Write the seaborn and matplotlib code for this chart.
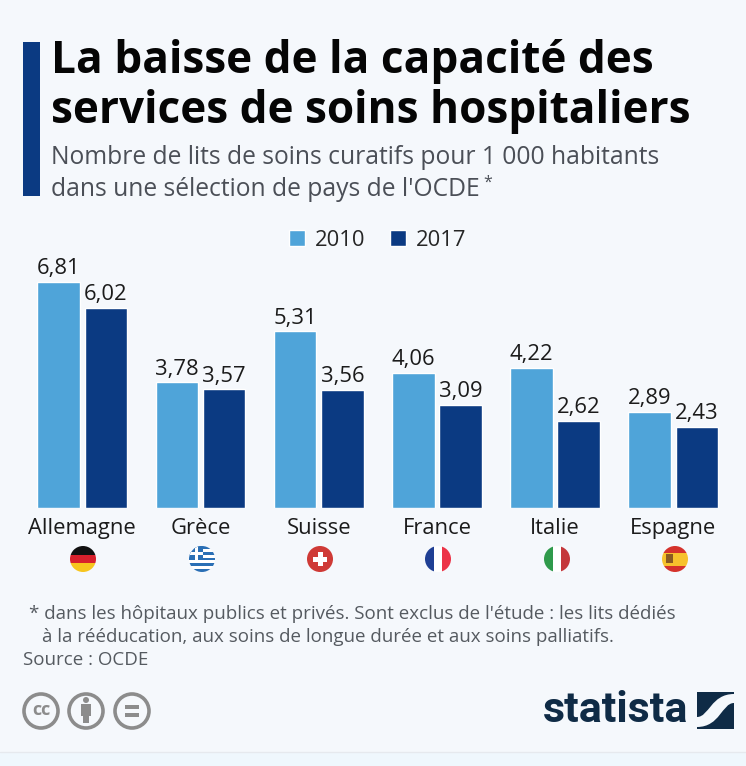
import matplotlib
matplotlib.use('Agg')
import matplotlib.pyplot as plt
from matplotlib.patches import Circle, Rectangle, PathPatch
from matplotlib.path import Path
import pandas as pd
import seaborn as sns

countries = ['Allemagne', 'Grèce', 'Suisse', 'France', 'Italie', 'Espagne']
values_2010 = [6.81, 3.78, 5.31, 4.06, 4.22, 2.89]
values_2017 = [6.02, 3.57, 3.56, 3.09, 2.62, 2.43]
years = ['2010', '2017']

BG = '#f5f8fc'
LIGHT = '#4fa4d9'
DARK = '#0b3a82'
W, H = 746, 766

sns.set_theme(style='white')
plt.rcParams['font.family'] = ['Open Sans', 'DejaVu Sans']

df = pd.DataFrame({'pays': countries, '2010': values_2010, '2017': values_2017})
df = df.melt(id_vars='pays', var_name='annee', value_name='lits')

fig = plt.figure(figsize=(W / 100, H / 100), dpi=100, facecolor=BG)

# overlay in pixel coordinates for title block, flags and logos
deco = fig.add_axes([0, 0, 1, 1], zorder=0)
deco.set_xlim(0, W)
deco.set_ylim(H, 0)
deco.axis('off')

# chart axes: baseline at y=508, 33.25 px per unit
left, right, top, bottom = 23.2, 732.4, 258, 508
ax = fig.add_axes([left / W, 1 - bottom / H, (right - left) / W, (bottom - top) / H], zorder=1)
ax.patch.set_alpha(0)
sns.barplot(data=df, x='pays', y='lits', hue='annee', hue_order=years,
            palette=[LIGHT, DARK], width=0.8, gap=0.1, saturation=1, ax=ax)
ax.set_ylim(0, (bottom - top) / 33.25)
ax.set_xlim(-0.5, 5.5)
ax.set_xlabel('')
ax.set_ylabel('')
ax.set_yticks([])
sns.despine(ax=ax, left=True, bottom=True)
ax.tick_params(axis='x', length=0, pad=7, labelsize=15.8, labelcolor='#1b1b1b')

for cont in ax.containers:
    labels = [f'{b.get_height():.2f}'.replace('.', ',') for b in cont]
    ax.bar_label(cont, labels=labels, padding=2, fontsize=15.8, color='#1b1b1b')

sns.move_legend(ax, 'center', bbox_to_anchor=(0.5, 1.07), ncol=2, frameon=False,
                title=None, fontsize=15.8, handlelength=0.73, handleheight=0.73,
                handletextpad=0.45, columnspacing=1.15)

# title block
deco.add_patch(Rectangle((23, 42), 17, 154, color=DARK, lw=0))
deco.text(51, 62, 'La baisse de la capacité des', fontsize=31.8, fontweight='bold',
          color='#050505', va='center')
deco.text(51, 112, 'services de soins hospitaliers', fontsize=31.8, fontweight='bold',
          color='#050505', va='center')
deco.text(51, 158, 'Nombre de lits de soins curatifs pour 1 000 habitants', fontsize=17.7,
          color='#4b4f57', va='center')
deco.text(51, 189, "dans une sélection de pays de l'OCDE", fontsize=17.7,
          color='#4b4f57', va='center')
deco.text(483, 183, '*', fontsize=11.5, color='#4b4f57', va='center')

# footnote
note_color = '#555a60'
deco.text(29, 614, "* dans les hôpitaux publics et privés. Sont exclus de l'étude : les lits dédiés",
          fontsize=13.5, color=note_color, va='center')
deco.text(42, 637, 'à la rééducation, aux soins de longue durée et aux soins palliatifs.',
          fontsize=13.5, color=note_color, va='center')
deco.text(23, 660, 'Source : OCDE', fontsize=13.5, color=note_color, va='center')


def flag(cx, stripes, vertical=False, extra=None):
    clip = Circle((cx, 559), 13, transform=deco.transData)
    y0, x0, d = 546, cx - 13, 26
    total = sum(s[1] for s in stripes)
    pos = 0
    arts = []
    for col, size in stripes:
        step = d * size / total
        if vertical:
            arts.append(Rectangle((x0 + pos, y0), step, d, color=col, lw=0))
        else:
            arts.append(Rectangle((x0, y0 + pos), d, step, color=col, lw=0))
        pos += step
    arts += extra or []
    for a in arts:
        deco.add_patch(a)
        a.set_clip_path(clip)


flag(83, [('#111111', 1), ('#d8202c', 1), ('#f7c51e', 1)])
gr_blue = '#2a6fb5'
flag(202, [(gr_blue, 1), ('white', 1)] * 4 + [(gr_blue, 1)],
     extra=[Rectangle((189, 546), 14, 14, color=gr_blue, lw=0),
            Rectangle((194.5, 546), 3, 14, color='white', lw=0),
            Rectangle((189, 551.5), 14, 3, color='white', lw=0)])
flag(320, [('#cf3a36', 1)],
     extra=[Rectangle((317.5, 552), 5, 14, color='white', lw=0),
            Rectangle((313, 556.5), 14, 5, color='white', lw=0)])
flag(438, [('#1f3f94', 1), ('white', 1), ('#ec3347', 1)], vertical=True)
flag(557, [('#2f9a4b', 1), ('white', 1), ('#c4373b', 1)], vertical=True)
flag(675, [('#d5322c', 1), ('#f7c22c', 2), ('#d5322c', 1)],
     extra=[Rectangle((666, 554), 7, 9, color='#8a5a22', lw=0)])

# creative commons icons
cc_grey = '#8c8c8c'
for cx in (41, 86, 132):
    deco.add_patch(Circle((cx, 711), 17, fc='none', ec=cc_grey, lw=2.6))
deco.text(41, 710, 'cc', fontsize=13, fontweight='bold', color=cc_grey, ha='center', va='center')
deco.add_patch(Circle((86, 700), 3, color=cc_grey, lw=0))
deco.add_patch(Rectangle((81, 704), 10, 12, color=cc_grey, lw=0))
deco.add_patch(Rectangle((83, 716), 6, 7, color=cc_grey, lw=0))
deco.add_patch(Rectangle((125, 705), 14, 3.5, color=cc_grey, lw=0))
deco.add_patch(Rectangle((125, 713), 14, 3.5, color=cc_grey, lw=0))

# statista logo
logo = '#0f2b46'
deco.text(616, 711, 'statista', fontsize=31, fontweight='bold', color=logo,
          family=['Roboto', 'DejaVu Sans'], ha='center', va='center')
deco.add_patch(Rectangle((697, 692), 37, 37, color=logo, lw=0))
swoosh = Path([(697, 717), (709, 717), (711, 694), (734, 694),
               (734, 703), (722, 703), (720, 727), (697, 727), (697, 717)],
              [Path.MOVETO, Path.CURVE4, Path.CURVE4, Path.CURVE4, Path.LINETO,
               Path.CURVE4, Path.CURVE4, Path.CURVE4, Path.CLOSEPOLY])
deco.add_patch(PathPatch(swoosh, fc=BG, ec='none'))

# footer strip
deco.add_patch(Rectangle((0, 752), W, 14, color='#eff7fd', lw=0))
deco.plot([0, W], [752, 752], color='#e6e9ee', lw=1)

fig.savefig('out.png', dpi=100, facecolor=BG)
